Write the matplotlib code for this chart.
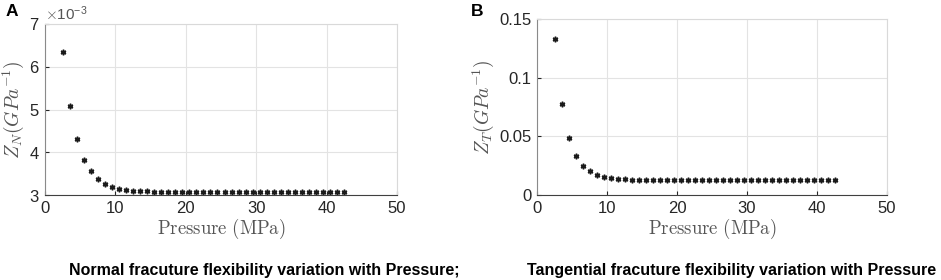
#!/usr/bin/env python3
# -*- coding: utf-8 -*-
"""
Normal and tangential fracture flexibility versus pressure (two panels, MATLAB-like style)
"""

import numpy as np
import matplotlib
matplotlib.use('Agg')
import matplotlib.pyplot as plt
from matplotlib.ticker import ScalarFormatter

# Pressure, MPa
pressure = np.arange(2.5, 43.0, 1.0)

# Z_N, GPa^-1
z_normal = np.array([
    6.35e-3, 5.08e-3, 4.30e-3, 3.83e-3, 3.55e-3, 3.37e-3, 3.26e-3, 3.19e-3,
    3.15e-3, 3.12e-3, 3.10e-3, 3.09e-3, 3.085e-3, 3.08e-3, 3.078e-3, 3.076e-3,
    3.075e-3, 3.074e-3, 3.073e-3, 3.073e-3, 3.072e-3, 3.072e-3, 3.072e-3, 3.072e-3,
    3.071e-3, 3.071e-3, 3.071e-3, 3.071e-3, 3.071e-3, 3.071e-3, 3.071e-3, 3.071e-3,
    3.071e-3, 3.071e-3, 3.071e-3, 3.071e-3, 3.071e-3, 3.071e-3, 3.071e-3, 3.071e-3,
    3.071e-3])

# Z_T, GPa^-1
z_tang = np.array([
    0.133, 0.0773, 0.0489, 0.0332, 0.0250, 0.0202, 0.0173, 0.0153,
    0.0145, 0.0140, 0.0135, 0.0132, 0.0130, 0.0128, 0.0127, 0.0126,
    0.0126, 0.0125, 0.0125, 0.0125, 0.0125, 0.0125, 0.0125, 0.0125,
    0.0125, 0.0125, 0.0125, 0.0125, 0.0125, 0.0125, 0.0125, 0.0125,
    0.0125, 0.0125, 0.0125, 0.0125, 0.0125, 0.0125, 0.0125, 0.0125,
    0.0125])

plt.rcParams['mathtext.fontset'] = 'cm'
plt.rcParams['font.family'] = ['Liberation Sans', 'DejaVu Sans']

W, H = 941, 280
fig = plt.figure(figsize=(W / 100, H / 100), dpi=100)


def make_axes(px_left, px_top, px_right, px_bottom):
    return fig.add_axes([px_left / W, 1 - px_bottom / H,
                         (px_right - px_left) / W, (px_bottom - px_top) / H])


def style_axes(ax, x, y, ylim, yticks, ylabel):
    ax.plot(x, y, linestyle='none',
            marker=(6, 2, 0), markersize=4, mew=1.1, color='#1a1a1a')
    ax.set_xlim(0, 50)
    ax.set_ylim(*ylim)
    ax.set_xticks([0, 10, 20, 30, 40, 50])
    ax.set_yticks(yticks)
    ax.grid(True, color='#e3e3e3', linewidth=0.8)
    ax.set_axisbelow(True)
    ax.tick_params(direction='in', length=3, width=0.8, colors='#262626',
                   labelsize=12, pad=4)
    for side in ('top', 'right'):
        ax.spines[side].set_color('#d9d9d9')
        ax.spines[side].set_linewidth(0.8)
    ax.spines['left'].set_color('#8a8a8a')
    ax.spines['bottom'].set_color('#404040')
    for side in ('left', 'bottom'):
        ax.spines[side].set_linewidth(0.8)
    ax.set_xlabel(r'$\mathrm{Pressure\ (MPa)}$', fontsize=13.5, color='#555555',
                  labelpad=1)
    ax.set_ylabel(ylabel, fontsize=14, color='#555555', labelpad=2)


# Panel A
axA = make_axes(45, 24, 397, 195)
style_axes(axA, pressure, z_normal, (3e-3, 7e-3),
           [3e-3, 4e-3, 5e-3, 6e-3, 7e-3], r'$Z_N(GPa^{-1})$')
fmt = ScalarFormatter(useMathText=True)
fmt.set_powerlimits((-3, -3))
axA.yaxis.set_major_formatter(fmt)
axA.yaxis.get_offset_text().set_fontsize(11)
axA.yaxis.get_offset_text().set_color('#555555')

# Panel B
axB = make_axes(537, 19, 887, 195)
style_axes(axB, pressure, z_tang, (0, 0.15), [0, 0.05, 0.1, 0.15],
           r'$Z_T(GPa^{-1})$')
axB.set_yticklabels(['0', '0.05', '0.1', '0.15'])

# Panel letters and captions
fig.text(6 / W, 1 - 12 / H, 'A', fontsize=12.5, fontweight='bold', va='center')
fig.text(471 / W, 1 - 12 / H, 'B', fontsize=12.5, fontweight='bold', va='center')

fig.text(264 / W, 1 - 270 / H,
         'Normal fracuture flexibility variation with Pressure;',
         fontsize=11.5, fontweight='bold', ha='center', va='center')
fig.text(732 / W, 1 - 270 / H,
         'Tangential fracuture flexibility variation with Pressure',
         fontsize=11.5, fontweight='bold', ha='center', va='center')

plt.savefig('out.png', dpi=100)
plt.close()
